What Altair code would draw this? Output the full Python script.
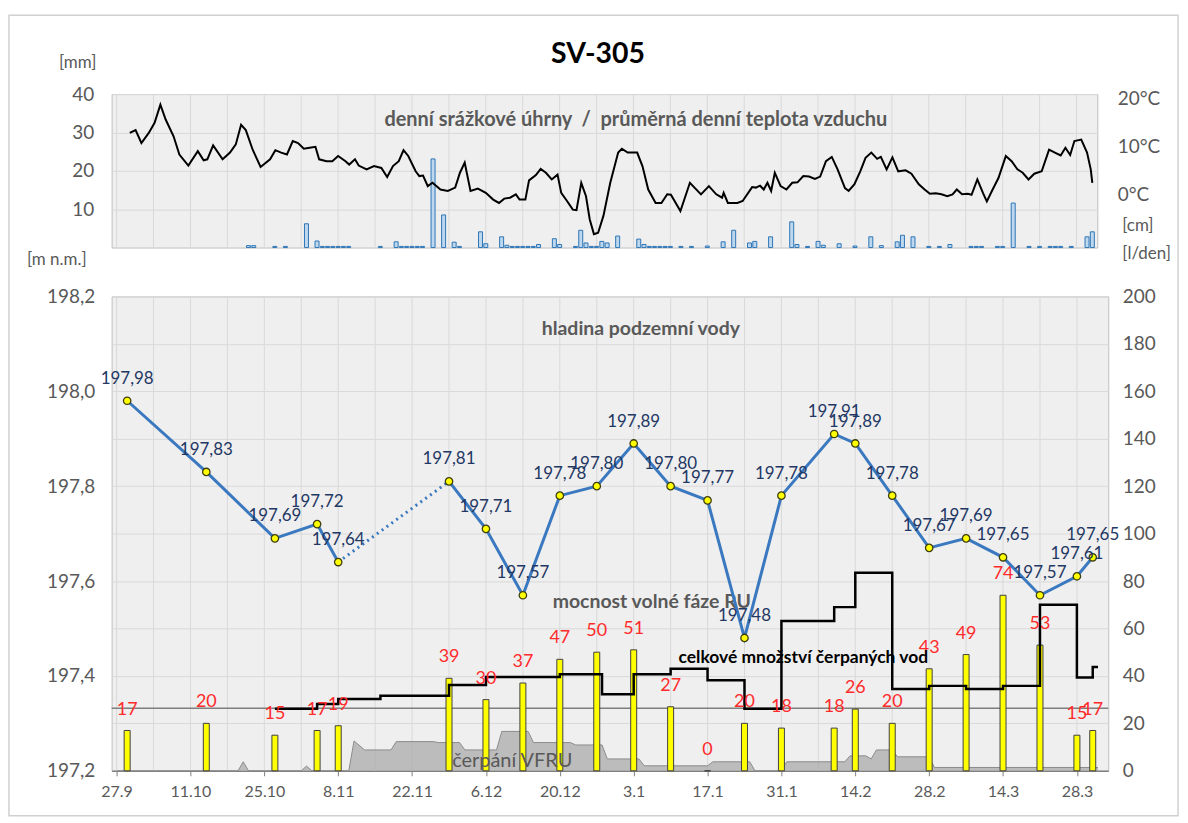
import altair as alt
import pandas as pd

FONT = "Lato"
GREY_TXT = "#595959"

START = pd.Timestamp("2018-09-27", tz="UTC")

# x-axis labels (every 14 days)
TICK_DATES = ["2018-09-27", "2018-10-11", "2018-10-25", "2018-11-08", "2018-11-22",
              "2018-12-06", "2018-12-20", "2019-01-03", "2019-01-17", "2019-01-31",
              "2019-02-14", "2019-02-28", "2019-03-14", "2019-03-28"]

# groundwater level measurements [m n.m.] and free-phase thickness [cm]
LEVEL_DATES = ["2018-09-29", "2018-10-14", "2018-10-27", "2018-11-04", "2018-11-08",
               "2018-11-29", "2018-12-06", "2018-12-13", "2018-12-20", "2018-12-27",
               "2019-01-03", "2019-01-10", "2019-01-17", "2019-01-24", "2019-01-31",
               "2019-02-10", "2019-02-14", "2019-02-21", "2019-02-28", "2019-03-07",
               "2019-03-14", "2019-03-21", "2019-03-28", "2019-03-31"]
LEVEL_M = [197.98, 197.83, 197.69, 197.72, 197.64, 197.81, 197.71, 197.57, 197.78, 197.80,
           197.89, 197.80, 197.77, 197.48, 197.78, 197.91, 197.89, 197.78, 197.67, 197.69,
           197.65, 197.57, 197.61, 197.65]
FREE_PHASE_CM = [17, 20, 15, 17, 19, 39, 30, 37, 47, 50, 51, 27, 0, 20, 18, 18, 26, 20,
                 43, 49, 74, 53, 15, 17]
GAP_AFTER = 4  # no measurement between 8.11 and 29.11 -> dotted link

# total pumped water [l/den], value valid from each date on
PUMP_DATES = ["2018-10-27", "2018-11-04", "2018-11-08", "2018-11-16", "2018-11-29",
              "2018-12-06", "2018-12-20", "2018-12-28", "2019-01-03", "2019-01-10",
              "2019-01-17", "2019-01-24", "2019-01-31", "2019-02-10", "2019-02-14",
              "2019-02-21", "2019-02-28", "2019-03-07", "2019-03-14", "2019-03-21",
              "2019-03-28", "2019-03-31", "2019-04-01"]
PUMP_LPD = [26.2, 28.2, 30.3, 31.6, 36.2, 39.5, 40.7, 32.3, 40.7, 43.0, 38.2, 26.2,
            63.2, 69.0, 83.5, 34.5, 35.8, 34.5, 35.8, 70.0, 39.3, 43.8, 43.8]
REF_LINE = 26.4

# VFRU pumping (days after 27.9)
VFRU_DAY = [0, 23, 24, 25, 35, 36, 37, 44, 45, 47, 52, 53, 60, 61, 65, 66, 72, 73, 78, 79,
            86, 87, 92, 93, 99, 100, 112, 113, 120, 121, 126, 127, 138, 139, 142, 143, 144,
            147, 148, 154, 155, 186]
VFRU_VAL = [0, 0, 3.8, 0, 0, 2.0, 0, 0, 12.6, 8.8, 8.8, 12.3, 12.3, 11.9, 11.9, 8.8, 8.8,
            16.6, 16.6, 11.9, 11.9, 10.9, 10.9, 5.0, 5.0, 2.1, 2.1, 3.8, 3.8, 0, 0, 3.8, 3.8,
            6.3, 6.3, 5.0, 8.8, 8.8, 5.9, 5.9, 1.4, 1.4]

# daily precipitation [mm] (days after 27.9)
RAIN_DAY = [25, 26, 30, 32, 36, 38, 39, 40, 41, 42, 43, 44, 50, 53, 54, 55, 56, 57, 58,
            60, 62, 64, 65, 69, 70, 73, 74, 75, 76, 77, 78, 79, 80, 83, 84, 87, 88, 89,
            90, 91, 92, 93, 95, 99, 100, 101, 102, 103, 104, 105, 107, 109, 112, 115, 117,
            120, 121, 124, 128, 129, 131, 133, 134, 137, 140, 143, 145, 148, 149, 151,
            154, 156, 158, 162, 163, 164, 167, 168, 170, 173, 175, 177, 178, 179, 181,
            184, 185]
RAIN_MM = [0.5, 0.5, 0.3, 0.3, 6.2, 1.7, 0.3, 0.3, 0.3, 0.3, 0.3, 0.3, 0.3, 1.5, 0.3,
           0.3, 0.3, 0.3, 0.3, 23.1, 8.5, 1.4, 0.3, 4.1, 1.0, 2.8, 0.6, 0.3, 0.3, 0.3,
           0.3, 0.3, 0.8, 2.3, 0.8, 0.3, 4.5, 1.2, 0.3, 0.3, 1.6, 1.2, 3.0, 2.2, 0.8,
           0.3, 0.3, 0.3, 0.3, 0.3, 0.3, 0.3, 0.4, 1.5, 4.5, 1.2, 1.6, 2.8, 6.7, 0.8,
           0.3, 1.6, 0.6, 1.0, 0.4, 2.8, 0.5, 1.5, 3.2, 2.8, 0.3, 0.3, 0.8, 0.3, 0.3,
           0.3, 0.3, 0.3, 11.6, 0.3, 0.3, 0.3, 0.3, 0.3, 0.3, 2.8, 4.1]

# mean daily air temperature [°C] (days after 27.9)
TEMP_DAY = [2.5, 3.6, 4.7, 6.1, 7.2, 8.3, 9.3, 10.8, 11.9, 13.6, 15.4, 16.5, 17.2, 18.3,
            20.1, 21.5, 22.6, 23.6, 24.5, 25.8, 27.3, 29.1, 30.1, 31.2, 32.3, 33.4, 34.4,
            35.5, 36.6, 37.7, 38.4, 39.8, 40.9, 42.0, 43.4, 44.1, 45.2, 45.9, 47.4, 48.8,
            50.2, 51.3, 52.4, 53.5, 54.4, 55.3, 56.7, 57.4, 58.1, 59.0, 59.9, 61.4, 62.8,
            64.2, 65.1, 66.0, 67.1, 68.5, 70.0, 71.4, 72.5, 73.5, 74.6, 75.7, 76.4, 77.5,
            78.2, 79.5, 80.4, 81.4, 82.5, 83.6, 84.3, 85.4, 86.5, 87.2, 88.1, 89.0, 89.7,
            90.5, 91.3, 92.3, 93.6, 95.1, 95.8, 96.9, 98.7, 99.7, 100.8, 102.2, 103.3,
            104.4, 105.1, 106.9, 108.7, 110.8, 112.3, 113.7, 114.8, 115.1, 115.9, 117.7,
            118.7, 120.5, 121.2, 122.0, 122.7, 123.4, 124.1, 124.8, 125.9, 127.0, 128.1,
            129.1, 130.2, 131.3, 132.4, 133.4, 134.5, 135.6, 136.7, 138.1, 138.8, 139.9,
            141.0, 142.0, 143.1, 144.2, 144.9, 146.0, 147.1, 148.2, 149.6, 150.7, 152.1,
            153.2, 154.2, 155.3, 156.4, 157.5, 158.5, 159.3, 160.3, 161.4, 162.1, 163.2,
            164.3, 165.0, 166.1, 167.2, 168.6, 169.7, 170.8, 171.8, 172.9, 174.0, 175.4,
            176.8, 177.9, 179.0, 179.9, 180.8, 181.6, 182.9, 184.0, 184.7, 185.0]
TEMP_C = [12.9, 13.5, 10.8, 12.9, 15.0, 18.8, 15.7, 12.2, 8.4, 6.1, 9.1, 7.2, 7.4, 10.3,
          7.4, 8.8, 10.5, 14.6, 13.5, 9.4, 5.8, 7.4, 9.3, 8.8, 8.4, 11.2, 10.8, 9.6, 9.8,
          10.0, 7.4, 7.0, 7.0, 8.1, 7.0, 6.3, 7.4, 6.1, 5.3, 6.0, 5.6, 3.7, 6.0, 7.0, 9.3,
          8.1, 4.9, 3.9, 4.0, 1.8, 2.5, 1.1, 0.8, 1.5, 4.6, 6.7, 0.8, 1.3, 0.4, -1.0,
          -1.7, -0.8, -0.6, 0.1, -1.0, -1.0, 3.0, 4.1, 5.4, 4.6, 3.2, 4.2, 0.4, -1.3,
          -3.1, -3.2, 2.5, -0.3, -5.1, -8.2, -7.9, -4.4, 2.5, 8.8, 9.6, 8.8, 8.8, 6.0,
          1.1, -1.7, -1.7, 0.1, 0.0, -3.4, 2.5, 0.1, 1.8, 0.1, -0.6, 0.4, -1.7, -1.7,
          -1.3, 1.6, 1.5, 1.9, 1.1, 2.5, 0.8, 4.6, 1.8, 1.1, 2.5, 2.6, 3.9, 3.8, 3.3,
          3.8, 7.0, 7.9, 5.3, 1.4, 0.8, 2.2, 4.9, 7.7, 8.8, 7.5, 7.9, 5.3, 7.8, 4.9, 5.1,
          4.4, 2.2, 1.1, 0.2, 0.3, 0.1, -0.3, 0.1, 1.1, 0.1, 0.2, 0.0, 3.2, 0.3, -1.4,
          1.1, 3.5, 8.1, 7.0, 5.3, 4.6, 3.2, 4.4, 4.9, 9.4, 8.8, 8.2, 9.8, 8.3, 11.2,
          11.5, 8.8, 5.3, 2.5]


def utc(s):
    t = pd.Timestamp(s)
    return alt.DateTime(year=t.year, month=t.month, date=t.day, utc=True)


def from_start(days):
    return [START + pd.Timedelta(days=float(d)) for d in days]


def to_utc(strings):
    return pd.to_datetime(strings).tz_localize("UTC")


# ---------------- data frames ----------------
level = pd.DataFrame({"date": to_utc(LEVEL_DATES), "level": LEVEL_M, "cm": FREE_PHASE_CM})
level["label"] = [f"{v:.2f}".replace(".", ",") for v in LEVEL_M]
level["seg"] = ["a" if i <= GAP_AFTER else "b" for i in range(len(level))]
gap = level.iloc[GAP_AFTER:GAP_AFTER + 2]

pump = pd.DataFrame({"date": to_utc(PUMP_DATES), "v": PUMP_LPD})
vfru = pd.DataFrame({"date": from_start(VFRU_DAY), "v": VFRU_VAL})
rain = pd.DataFrame({"date": from_start(RAIN_DAY), "mm": RAIN_MM})
temp = pd.DataFrame({"date": from_start(TEMP_DAY), "t": TEMP_C})
weeks = pd.DataFrame({"date": pd.date_range(START, periods=27, freq="7D")})
ref = pd.DataFrame({"v": [REF_LINE]})

# ---------------- shared encodings ----------------
x_scale_top = alt.Scale(type="utc", domain=[utc("2018-09-27"), utc("2019-03-31")])
x_scale_bot = alt.Scale(type="utc", domain=[utc("2018-09-27"), utc("2019-04-02")])

x_axis_bot = alt.Axis(values=[utc(d) for d in TICK_DATES],
                      labelExpr="utcFormat(datum.value, '%-d.%-m')",
                      grid=False, domainColor="#808080", domainWidth=1.5, tickColor="#808080",
                      tickSize=5, labelPadding=8, labelFontSize=16, title=None)


def xb():
    return alt.X("date:T", scale=x_scale_bot, axis=x_axis_bot)


def xt():
    return alt.X("date:T", scale=x_scale_top, axis=None)


lvl_axis = alt.Axis(orient="left", values=[197.2, 197.4, 197.6, 197.8, 198.0, 198.2],
                    labelExpr="replace(format(datum.value, '.1f'), '.', ',')",
                    grid=False, domain=False, ticks=False, labelPadding=17,
                    labelFontSize=19, title=None)
lvl_y = alt.Y("level:Q", scale=alt.Scale(domain=[197.2, 198.2]), axis=lvl_axis)

r_axis = alt.Axis(orient="right", values=list(range(0, 201, 20)), grid=True,
                  gridColor="#d9d9d9", domain=False, ticks=False, labelPadding=14,
                  labelFontSize=19, title=None)
r_scale = alt.Scale(domain=[0, 200])


def ry(field):
    return alt.Y(field, scale=r_scale, axis=r_axis)


def note(text, x, y, size=17, color=GREY_TXT, weight="bold", align="center"):
    return alt.Chart(pd.DataFrame({"t": [text]})).mark_text(
        font=FONT, fontSize=size, color=color, fontWeight=weight, align=align,
        baseline="middle").encode(text="t:N", x=alt.value(x), y=alt.value(y))


# ---------------- lower panel ----------------
grid_b = alt.Chart(weeks).mark_rule(color="#d9d9d9", strokeWidth=1).encode(x=xb())
vfru_area = alt.Chart(vfru).mark_area(color="#a6a6a6", line={"color": "#8c8c8c", "strokeWidth": 1}).encode(
    x=xb(), y=ry("v:Q"))
ref_rule = alt.Chart(ref).mark_rule(color="#7f7f7f", strokeWidth=1.5).encode(y=ry("v:Q"))
cm_bars = alt.Chart(level).mark_bar(width=6, fill="#ffff00", stroke="#404040", strokeWidth=1).encode(
    x=xb(), y=ry("cm:Q"))
pump_line = alt.Chart(pump).mark_line(interpolate="step-after", color="#000000", strokeWidth=2.5).encode(
    x=xb(), y=ry("v:Q"))
cm_text = alt.Chart(level).mark_text(font=FONT, fontSize=18, color="#ff2b2b", dy=-21, baseline="middle").encode(
    x=xb(), y=ry("cm:Q"), text="cm:Q")

right_group = alt.layer(
    grid_b, vfru_area, ref_rule, cm_bars, pump_line, cm_text,
    note("hladina podzemní vody", 531, 33, size=19.5),
    note("mocnost volné fáze RU", 542, 307, size=19.5),
    note("celkové množství čerpaných vod", 694, 363, size=17.5, color="#000000"),
    note("čerpání VFRU", 402, 466, size=20, weight="normal"),
)

lvl_line = alt.Chart(level).mark_line(color="#3a78bf", strokeWidth=3).encode(
    x=xb(), y=lvl_y, detail="seg:N")
lvl_gap = alt.Chart(gap).mark_line(color="#3a78bf", strokeWidth=3, strokeDash=[2, 4]).encode(
    x=xb(), y=lvl_y)
lvl_pts = alt.Chart(level).mark_point(shape="circle", filled=True, size=55, fill="#ffff00",
                                      stroke="#3d3d10", strokeWidth=1.3, opacity=1).encode(
    x=xb(), y=lvl_y)
lvl_txt = alt.Chart(level).mark_text(font=FONT, fontSize=17, color="#1f3864", dy=-22,
                                     baseline="middle").encode(x=xb(), y=lvl_y, text="label:N")

left_group = alt.layer(lvl_line, lvl_gap, lvl_pts, lvl_txt)

bottom = alt.layer(right_group, left_group).resolve_scale(y="independent").properties(
    width=1000, height=476)

# ---------------- upper panel ----------------
mm_axis = alt.Axis(orient="left", values=[10, 20, 30, 40], grid=True, gridColor="#d9d9d9",
                   domain=False, ticks=False, labelPadding=18, labelFontSize=19, title=None)
mm_y = alt.Y("mm:Q", scale=alt.Scale(domain=[0, 40]), axis=mm_axis)

grid_t = alt.Chart(weeks).mark_rule(color="#d9d9d9", strokeWidth=1).encode(x=xt())
rain_bars = alt.Chart(rain).mark_bar(width=4, fill="#bdd7ee", stroke="#2e75b6", strokeWidth=1).encode(
    x=xt(), y=mm_y)

border = alt.Chart(pd.DataFrame({"a": [0]})).mark_rect(
    fill="transparent", stroke="#d0d0d0", strokeWidth=1.5).encode(
    x=alt.value(-103), x2=alt.value(1070), y=alt.value(-79), y2=alt.value(724))

NBSP = "\u00a0"
top_left = alt.layer(
    grid_t, rain_bars, border,
    note("SV-305", 488, -40, size=28.5, color="#000000"),
    note("[mm]", -34, -31, size=17, weight="normal"),
    note(f"denní srážkové úhrny{NBSP}{NBSP}/{NBSP}{NBSP}průměrná denní teplota vzduchu", 526, 26, size=20),
    note("[m n.m.]", -55, 167, size=17, weight="normal"),
    note("[cm]", 1014, 132, size=17, weight="normal", align="left"),
    note("[l/den]", 1014, 160, size=17, weight="normal", align="left"),
)

t_axis = alt.Axis(orient="right", values=[0, 10, 20], labelExpr="datum.value + '°C'",
                  grid=False, domain=False, ticks=False, labelPadding=20,
                  labelFontSize=19, title=None)
temp_line = alt.Chart(temp).mark_line(color="#000000", strokeWidth=2, clip=True).encode(
    x=xt(), y=alt.Y("t:Q", scale=alt.Scale(domain=[-11, 21]), axis=t_axis))

top = alt.layer(top_left, temp_line).resolve_scale(y="independent").properties(
    width=989, height=154)

chart = alt.vconcat(top, bottom, spacing=49, bounds="flush").properties(
    padding={"left": 7, "top": 12, "right": 8, "bottom": 8},
    background="#ffffff",
).configure_view(
    fill="#efefef", stroke="#bfbfbf", strokeWidth=1
).configure_axis(
    labelFont=FONT, labelColor=GREY_TXT, titleFont=FONT
)

chart.save("out.html", embed_options={"renderer": "svg", "actions": False})
